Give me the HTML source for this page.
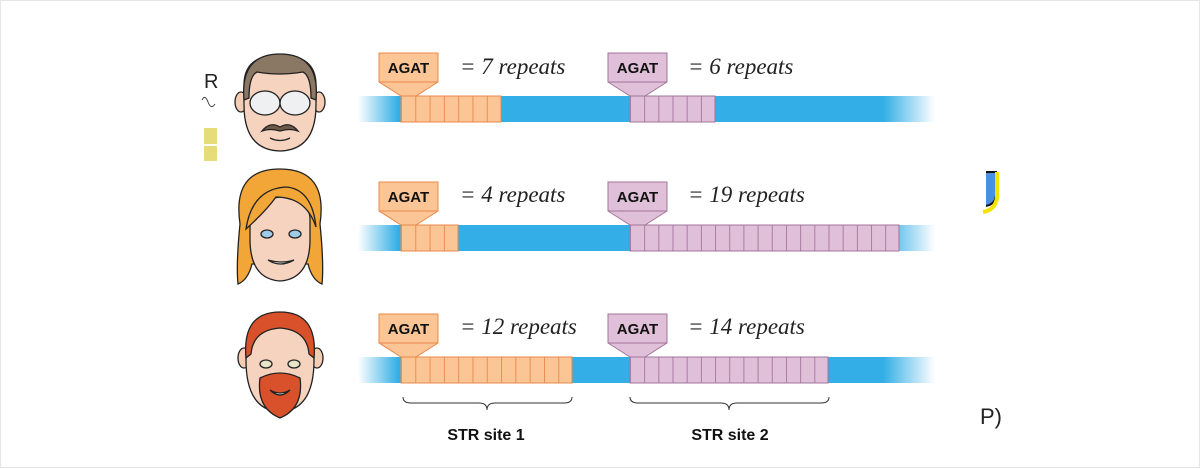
<!DOCTYPE html>
<html><head><meta charset="utf-8"><style>
html,body{margin:0;padding:0;background:#fff;}
svg{display:block}
</style></head><body>
<svg width="1200" height="468" viewBox="0 0 1200 468" xmlns="http://www.w3.org/2000/svg">
<defs>
<linearGradient id="bar" x1="358" x2="935" gradientUnits="userSpaceOnUse">
<stop offset="0" stop-color="#33aee6" stop-opacity="0"/>
<stop offset="0.07" stop-color="#33aee6"/>
<stop offset="0.91" stop-color="#33aee6"/>
<stop offset="1" stop-color="#33aee6" stop-opacity="0"/>
</linearGradient>
<pattern id="po" x="401" y="0" width="14.3" height="500" patternUnits="userSpaceOnUse">
<rect width="14.3" height="500" fill="#fbc595"/><line x1="0.4" y1="0" x2="0.4" y2="500" stroke="#e8894a" stroke-width="1"/>
</pattern>
<pattern id="pp" x="630" y="0" width="14.18" height="500" patternUnits="userSpaceOnUse">
<rect width="14.18" height="500" fill="#e0bfd8"/><line x1="0.4" y1="0" x2="0.4" y2="500" stroke="#a3769a" stroke-width="1"/>
</pattern>
</defs>
<rect x="0.5" y="0.5" width="1199" height="467" fill="none" stroke="#e6e6e6"/>

<!-- left fragments -->
<text x="204" y="88" font-family="Liberation Sans, sans-serif" font-size="20" fill="#222">R</text>
<path d="M202 100 q3 -6 6 2 q3 8 7 2" fill="none" stroke="#444" stroke-width="1"/>
<rect x="204" y="128" width="13" height="16" fill="#e6dc7a"/>
<rect x="204" y="146" width="13" height="15" fill="#e6dc7a"/>
<!-- right fragments -->
<path d="M986 172 h10 v22 q0 10 -10 12" fill="#4a90e2" stroke="#111" stroke-width="2"/>
<path d="M997 172 v26 q-2 12 -14 14" fill="none" stroke="#f2e600" stroke-width="4"/>
<text x="980" y="424" font-family="Liberation Sans, sans-serif" font-size="22" fill="#222">P)</text>

<!-- bars -->
<g>
<rect x="358" y="96" width="577" height="26" fill="url(#bar)"/>
<rect x="401" y="96" width="100" height="26" fill="url(#po)" stroke="#e8894a"/>
<rect x="630" y="96" width="85" height="26" fill="url(#pp)" stroke="#a3769a"/>

<rect x="358" y="225" width="577" height="26" fill="url(#bar)"/>
<rect x="401" y="225" width="57" height="26" fill="url(#po)" stroke="#e8894a"/>
<rect x="630" y="225" width="269" height="26" fill="url(#pp)" stroke="#a3769a"/>

<rect x="358" y="357" width="577" height="26" fill="url(#bar)"/>
<rect x="401" y="357" width="171" height="26" fill="url(#po)" stroke="#e8894a"/>
<rect x="630" y="357" width="198" height="26" fill="url(#pp)" stroke="#a3769a"/>
</g>

<!-- AGAT boxes -->
<g font-family="Liberation Sans, sans-serif" font-weight="bold" font-size="15" text-anchor="middle" fill="#111">
<g>
<path d="M379 53 h59 v29 l-22 14 h-15 l-22 -14 z" fill="#fbc595" stroke="#e8894a"/>
<line x1="379" y1="82" x2="438" y2="82" stroke="#e8894a"/>
<text x="408.5" y="73">AGAT</text>
<path d="M608 53 h59 v29 l-22 14 h-15 l-22 -14 z" fill="#e0bfd8" stroke="#a3769a"/>
<line x1="608" y1="82" x2="667" y2="82" stroke="#a3769a"/>
<text x="637.5" y="73">AGAT</text>
</g>
<g transform="translate(0,129)">
<path d="M379 53 h59 v29 l-22 14 h-15 l-22 -14 z" fill="#fbc595" stroke="#e8894a"/>
<line x1="379" y1="82" x2="438" y2="82" stroke="#e8894a"/>
<text x="408.5" y="73">AGAT</text>
<path d="M608 53 h59 v29 l-22 14 h-15 l-22 -14 z" fill="#e0bfd8" stroke="#a3769a"/>
<line x1="608" y1="82" x2="667" y2="82" stroke="#a3769a"/>
<text x="637.5" y="73">AGAT</text>
</g>
<g transform="translate(0,261)">
<path d="M379 53 h59 v29 l-22 14 h-15 l-22 -14 z" fill="#fbc595" stroke="#e8894a"/>
<line x1="379" y1="82" x2="438" y2="82" stroke="#e8894a"/>
<text x="408.5" y="73">AGAT</text>
<path d="M608 53 h59 v29 l-22 14 h-15 l-22 -14 z" fill="#e0bfd8" stroke="#a3769a"/>
<line x1="608" y1="82" x2="667" y2="82" stroke="#a3769a"/>
<text x="637.5" y="73">AGAT</text>
</g>
</g>

<g font-family="Liberation Serif, serif" font-style="italic" font-size="23" fill="#222">
<text x="460" y="74">= 7 repeats</text>
<text x="688" y="74">= 6 repeats</text>
<text x="460" y="202">= 4 repeats</text>
<text x="688" y="202">= 19 repeats</text>
<text x="460" y="334">= 12 repeats</text>
<text x="688" y="334">= 14 repeats</text>
</g>

<!-- braces -->
<g fill="none" stroke="#333" stroke-width="1">
<path d="M403 397 q0 6 8 6 h68 q8 0 8 7 q0 -7 8 -7 h69 q8 0 8 -6"/>
<path d="M630 397 q0 6 8 6 h83 q8 0 8 7 q0 -7 8 -7 h84 q8 0 8 -6"/>
</g>
<g font-family="Liberation Sans, sans-serif" font-weight="bold" font-size="16" fill="#111" text-anchor="middle">
<text x="486" y="440">STR site 1</text>
<text x="730" y="440">STR site 2</text>
</g>

<!-- faces -->
<g stroke="#222" stroke-width="1.3">
<!-- face 1 -->
<ellipse cx="241" cy="102" rx="6" ry="10" fill="#f5cdb5"/>
<ellipse cx="319" cy="102" rx="6" ry="10" fill="#f5cdb5"/>
<path d="M244 85 q0 -30 36 -30 q36 0 36 30 v20 q0 45 -36 46 q-36 -1 -36 -46 z" fill="#f6d3bf"/>
<path d="M244 100 q-4 -46 36 -46 q40 0 36 46 l-5 -2 q0 -22 -8 -26 q-24 4 -46 0 q-8 4 -8 26 z" fill="#8a7764"/>
<ellipse cx="265" cy="103" rx="15" ry="12" fill="#eef0f2"/>
<ellipse cx="295" cy="103" rx="15" ry="12" fill="#eef0f2"/>
<path d="M262 131 q8 -10 18 -4 q10 -6 18 4 q-8 -3 -18 0 q-10 -3 -18 0 z" fill="#6d5a48"/>
<path d="M270 138 q10 5 20 0" fill="none"/>
<!-- face 2 -->
<g transform="translate(0,14)">
<path d="M240 210 q-8 -55 40 -55 q48 0 40 55 q4 40 2 60 q-10 -4 -14 -20 h-56 q-4 16 -14 20 q-2 -20 2 -60z" fill="#f3a638"/>
<path d="M250 205 q0 -18 30 -22 q30 4 30 22 v20 q0 40 -30 42 q-30 -2 -30 -42 z" fill="#f6d3bf"/>
<path d="M246 215 q6 -40 40 -42 q26 2 30 40 q-10 -30 -40 -30 q-10 14 -30 32z" fill="#f3a638"/>
<ellipse cx="267" cy="220" rx="6" ry="4" fill="#9ecbe8"/>
<ellipse cx="295" cy="220" rx="6" ry="4" fill="#9ecbe8"/>
<path d="M268 246 q12 8 26 0 q-12 4 -26 0z" fill="#fff"/>
</g>
<!-- face 3 -->
<ellipse cx="244" cy="358" rx="6" ry="10" fill="#f5cdb5"/>
<ellipse cx="317" cy="358" rx="6" ry="10" fill="#f5cdb5"/>
<path d="M246 350 q0 -36 34 -36 q34 0 34 36 v10 q0 50 -34 52 q-34 -2 -34 -52 z" fill="#f6d3bf"/>
<path d="M246 358 q-4 -46 34 -46 q38 0 34 46 l-5 -4 q-2 -24 -29 -26 q-27 2 -29 26z" fill="#d9512b"/>
<path d="M260 378 q20 -10 40 0 q4 30 -20 40 q-24 -10 -20 -40z" fill="#d9512b"/>
<path d="M270 390 q10 6 20 0 q-10 10 -20 0z" fill="#fff"/>
<ellipse cx="266" cy="364" rx="6" ry="4" fill="#e8e4c8"/>
<ellipse cx="294" cy="364" rx="6" ry="4" fill="#e8e4c8"/>
</g>
</svg>
</body></html>
